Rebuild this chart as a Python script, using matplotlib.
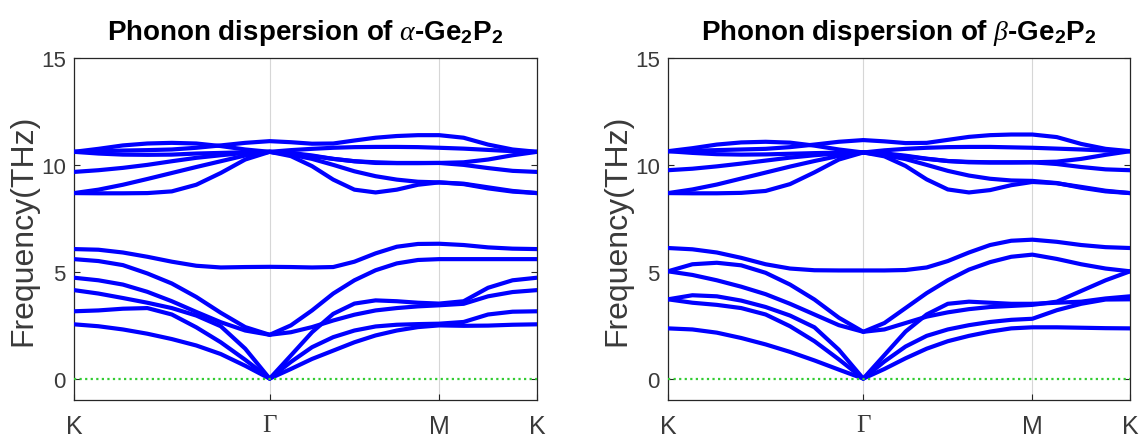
import matplotlib
matplotlib.use("Agg")
import matplotlib.pyplot as plt
import numpy as np

plt.rcParams["font.family"] = ["Liberation Sans", "DejaVu Sans"]
plt.rcParams["mathtext.fontset"] = "custom"
plt.rcParams["mathtext.rm"] = "Liberation Sans:bold"
plt.rcParams["mathtext.it"] = "Liberation Serif:italic"
plt.rcParams["mathtext.bf"] = "Liberation Sans:bold"

# high-symmetry path K - Gamma - M - K (hexagonal lattice, units of 2*pi/a)
K_POINT = 0.0
G_POINT = 4 / 3
M_POINT = G_POINT + 2 / np.sqrt(3)
K2_POINT = M_POINT + 2 / 3
TICK_LABELS = ["K", "Γ", "M", "K"]

# sampling along each segment: 9 points K-G, 9 points G-M, 5 points M-K
N_KG, N_GM, N_MK = 9, 9, 5

TITLES = [
    r"Phonon dispersion of $\alpha$-Ge$_{2}$P$_{2}$",
    r"Phonon dispersion of $\beta$-Ge$_{2}$P$_{2}$",
]

# ---- alpha-Ge2P2 : (K->G, G->M, M->K) frequencies in THz ----
alpha_bands = [
    # optical, high group
    ([10.61, 10.75, 10.91, 11.00, 11.03, 11.00, 10.88, 10.72, 10.61],
     [10.61, 10.69, 10.75, 10.80, 10.83, 10.84, 10.84, 10.83, 10.80],
     [10.80, 10.76, 10.70, 10.64, 10.61]),
    ([10.61, 10.64, 10.67, 10.69, 10.72, 10.80, 10.91, 11.03, 11.11],
     [11.11, 11.06, 10.99, 11.00, 11.14, 11.27, 11.35, 11.39, 11.39],
     [11.39, 11.27, 10.95, 10.72, 10.61]),
    ([10.61, 10.53, 10.48, 10.47, 10.48, 10.53, 10.56, 10.59, 10.61],
     [10.61, 10.52, 10.41, 10.28, 10.17, 10.09, 10.08, 10.08, 10.09],
     [10.09, 10.12, 10.25, 10.45, 10.61]),
    ([9.67, 9.75, 9.86, 10.00, 10.17, 10.33, 10.45, 10.56, 10.61],
     [10.61, 10.48, 10.28, 10.00, 9.70, 9.47, 9.31, 9.21, 9.18],
     [9.18, 9.10, 8.90, 8.75, 8.68]),
    ([8.68, 8.84, 9.07, 9.34, 9.62, 9.90, 10.17, 10.44, 10.61],
     [10.61, 10.41, 9.94, 9.31, 8.84, 8.71, 8.84, 9.07, 9.18],
     [9.18, 9.12, 8.95, 8.78, 8.68]),
    ([8.68, 8.67, 8.67, 8.68, 8.76, 9.07, 9.62, 10.25, 10.61],
     [10.61, 10.56, 10.44, 10.28, 10.17, 10.12, 10.09, 10.09, 10.09],
     [10.09, 10.00, 9.85, 9.72, 9.67]),
    # low group
    ([6.06, 6.03, 5.90, 5.70, 5.47, 5.28, 5.20, 5.22, 5.23],
     [5.23, 5.22, 5.20, 5.22, 5.47, 5.86, 6.17, 6.30, 6.31],
     [6.31, 6.25, 6.14, 6.08, 6.06]),
    ([5.59, 5.50, 5.31, 4.92, 4.45, 3.82, 3.08, 2.41, 2.05],
     [2.05, 2.49, 3.19, 3.98, 4.60, 5.07, 5.39, 5.55, 5.59],
     [5.59, 5.59, 5.59, 5.59, 5.59]),
    ([4.72, 4.60, 4.40, 4.06, 3.62, 3.12, 2.64, 2.25, 2.05],
     [2.05, 2.17, 2.41, 2.72, 2.99, 3.19, 3.30, 3.38, 3.43],
     [3.43, 3.50, 3.85, 4.05, 4.14]),
    ([4.14, 3.98, 3.77, 3.55, 3.30, 2.95, 2.45, 1.40, 0.00],
     [0.00, 1.08, 2.17, 3.03, 3.51, 3.66, 3.62, 3.55, 3.51],
     [3.51, 3.62, 4.25, 4.60, 4.72]),
    ([3.15, 3.19, 3.27, 3.30, 3.00, 2.40, 1.70, 0.88, 0.00],
     [0.00, 0.78, 1.47, 1.94, 2.25, 2.44, 2.52, 2.55, 2.57],
     [2.57, 2.65, 3.00, 3.13, 3.15]),
    ([2.54, 2.45, 2.30, 2.10, 1.85, 1.55, 1.15, 0.60, 0.00],
     [0.00, 0.45, 0.92, 1.31, 1.70, 2.02, 2.25, 2.41, 2.49],
     [2.49, 2.47, 2.48, 2.52, 2.54]),
]

# ---- beta-Ge2P2 ----
beta_bands = [
    ([10.64, 10.78, 10.95, 11.05, 11.08, 11.04, 10.90, 10.72, 10.58],
     [10.58, 10.68, 10.75, 10.80, 10.83, 10.84, 10.84, 10.82, 10.80],
     [10.80, 10.76, 10.72, 10.67, 10.64]),
    ([10.64, 10.66, 10.69, 10.72, 10.75, 10.83, 10.95, 11.08, 11.16],
     [11.16, 11.10, 11.02, 11.03, 11.17, 11.31, 11.39, 11.42, 11.42],
     [11.42, 11.30, 10.98, 10.75, 10.64]),
    ([10.64, 10.56, 10.50, 10.48, 10.49, 10.52, 10.55, 10.57, 10.58],
     [10.58, 10.50, 10.40, 10.28, 10.18, 10.12, 10.11, 10.11, 10.12],
     [10.12, 10.15, 10.28, 10.47, 10.64]),
    ([9.75, 9.82, 9.93, 10.06, 10.20, 10.34, 10.45, 10.54, 10.58],
     [10.58, 10.46, 10.27, 10.00, 9.72, 9.50, 9.35, 9.27, 9.25],
     [9.25, 9.15, 8.93, 8.76, 8.68]),
    ([8.68, 8.85, 9.08, 9.36, 9.64, 9.92, 10.18, 10.42, 10.58],
     [10.58, 10.40, 9.95, 9.32, 8.85, 8.71, 8.82, 9.05, 9.20],
     [9.20, 9.14, 8.97, 8.79, 8.68]),
    ([8.68, 8.67, 8.67, 8.69, 8.78, 9.10, 9.65, 10.25, 10.58],
     [10.58, 10.54, 10.43, 10.29, 10.18, 10.14, 10.12, 10.12, 10.12],
     [10.12, 10.04, 9.90, 9.79, 9.75]),
    ([6.11, 6.05, 5.90, 5.65, 5.35, 5.15, 5.07, 5.06, 5.06],
     [5.06, 5.06, 5.08, 5.20, 5.50, 5.90, 6.25, 6.45, 6.50],
     [6.50, 6.40, 6.25, 6.15, 6.11]),
    ([5.02, 5.35, 5.42, 5.30, 4.95, 4.40, 3.70, 2.85, 2.19],
     [2.19, 2.60, 3.30, 4.00, 4.60, 5.10, 5.45, 5.70, 5.80],
     [5.80, 5.60, 5.35, 5.15, 5.02]),
    ([5.02, 4.85, 4.60, 4.30, 3.95, 3.50, 3.00, 2.50, 2.19],
     [2.19, 2.30, 2.60, 2.90, 3.10, 3.25, 3.35, 3.40, 3.45],
     [3.45, 3.60, 4.10, 4.60, 5.02]),
    ([3.71, 3.90, 3.85, 3.65, 3.35, 2.95, 2.40, 1.35, 0.00],
     [0.00, 1.10, 2.20, 3.00, 3.50, 3.60, 3.55, 3.50, 3.50],
     [3.50, 3.55, 3.60, 3.75, 3.85]),
    ([3.71, 3.55, 3.45, 3.30, 3.00, 2.45, 1.75, 0.90, 0.00],
     [0.00, 0.80, 1.50, 2.00, 2.30, 2.50, 2.65, 2.75, 2.80],
     [2.80, 3.20, 3.50, 3.70, 3.71]),
    ([2.35, 2.30, 2.15, 1.90, 1.60, 1.25, 0.85, 0.42, 0.00],
     [0.00, 0.45, 0.95, 1.40, 1.75, 2.00, 2.20, 2.35, 2.40],
     [2.40, 2.40, 2.38, 2.36, 2.35]),
]

path_x = np.concatenate([
    np.linspace(K_POINT, G_POINT, N_KG),
    np.linspace(G_POINT, M_POINT, N_GM)[1:],
    np.linspace(M_POINT, K2_POINT, N_MK)[1:],
])


def band_y(kg, gm, mk):
    return np.concatenate([kg, gm[1:], mk[1:]])


def draw_panel(ax, bands, title):
    for xv in (G_POINT, M_POINT):
        ax.axvline(xv, color="#d6d6d6", lw=0.8, zorder=1)
    for kg, gm, mk in bands:
        ax.plot(path_x, band_y(kg, gm, mk), color="#0000ff", lw=3.0,
                solid_joinstyle="round", zorder=3)
    ax.plot([K_POINT, K2_POINT], [0, 0], color="#33cc33", lw=1.6,
            linestyle=(0, (1, 1.5)), zorder=4)
    ax.set_xlim(K_POINT, K2_POINT)
    ax.set_ylim(-1, 15)
    ax.set_yticks([0, 5, 10, 15])
    ax.set_xticks([K_POINT, G_POINT, M_POINT, K2_POINT])
    ax.set_xticklabels(TICK_LABELS)
    ax.get_xticklabels()[1].set_family("Liberation Serif")
    ax.tick_params(direction="in", top=False, right=True, length=4,
                   colors="#262626", labelcolor="#3a3a3a")
    ax.tick_params(axis="y", labelsize=16, pad=6)
    ax.tick_params(axis="x", labelsize=18, pad=10)
    for s in ax.spines.values():
        s.set_color("#262626")
        s.set_linewidth(0.9)
    ax.set_ylabel("Frequency(THz)", fontsize=23, color="#3a3a3a", labelpad=2)
    ax.set_title(title, fontsize=20, fontweight="bold", pad=14)


fig = plt.figure(figsize=(11.45, 4.39), dpi=100)
ax1 = fig.add_axes([0.0646, 0.0866, 0.4044, 0.779])
ax2 = fig.add_axes([0.5834, 0.0866, 0.4035, 0.779])
draw_panel(ax1, alpha_bands, TITLES[0])
draw_panel(ax2, beta_bands, TITLES[1])
fig.savefig("out.png", dpi=100)
